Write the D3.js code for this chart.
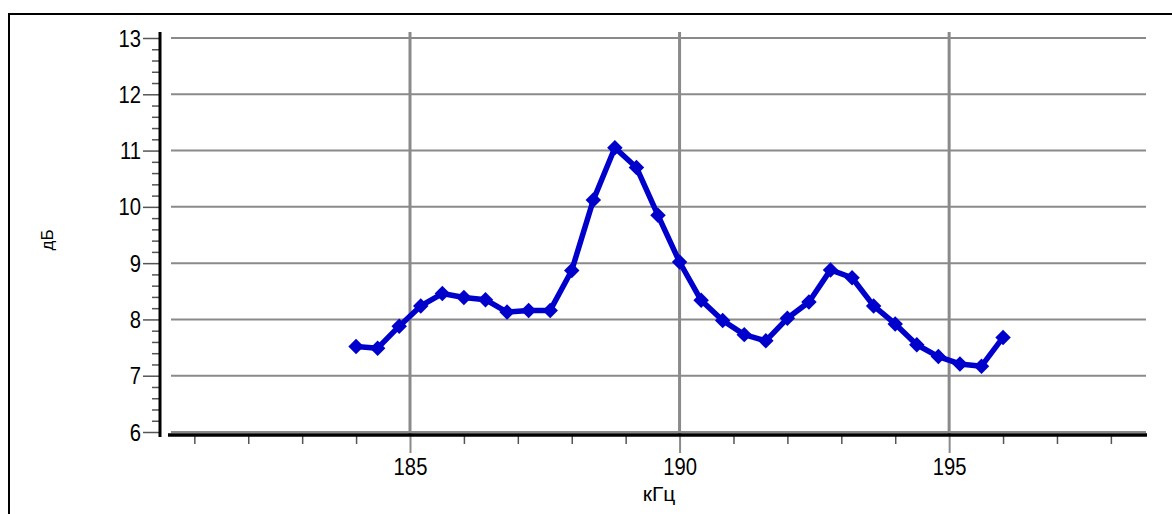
<!DOCTYPE html>
<html>
<head>
<meta charset="utf-8">
<script src="https://cdn.jsdelivr.net/npm/d3@7"></script>
<style>
  html, body { margin: 0; padding: 0; background: #fff; }
  svg { display: block; }
  text { font-family: "Liberation Sans", Arial, sans-serif; fill: #000; }
</style>
</head>
<body>
<svg id="chart" width="1172" height="514"></svg>
<script>
// ---- data ----
const freqs = [184.0, 184.4, 184.8, 185.2, 185.6, 186.0, 186.4, 186.8, 187.2, 187.6,
               188.0, 188.4, 188.8, 189.2, 189.6, 190.0, 190.4, 190.8, 191.2, 191.6,
               192.0, 192.4, 192.8, 193.2, 193.6, 194.0, 194.4, 194.8, 195.2, 195.6, 196.0];
const dbValues = [7.52, 7.49, 7.88, 8.24, 8.46, 8.39, 8.35, 8.13, 8.16, 8.16,
                  8.87, 10.12, 11.05, 10.70, 9.85, 9.02, 8.34, 7.98, 7.73, 7.62,
                  8.02, 8.31, 8.88, 8.74, 8.24, 7.92, 7.55, 7.34, 7.21, 7.17, 7.68];
const xMajorTicks = [185, 190, 195];
const xMinorTicks = [181, 182, 183, 184, 186, 187, 188, 189, 191, 192, 193, 194, 196, 197, 198];
const yMajorTicks = [6, 7, 8, 9, 10, 11, 12, 13];
const xDomain = [180.53, 198.67];
const yDomain = [6, 13];
const xLabel = "кГц";
const yLabel = "дБ";

// ---- layout ----
const svg = d3.select("#chart");
const x = d3.scaleLinear().domain(xDomain).range([169, 1147]);
const y = d3.scaleLinear().domain(yDomain).range([432, 38]);
const gridColor = "#8a8a8a";
const lineColor = "#0000cc";

svg.append("rect").attr("width", 1172).attr("height", 514).attr("fill", "#fff");

// outer frame (top & left visible)
svg.append("path").attr("d", "M9,514 V14 H1172")
  .attr("fill", "none").attr("stroke", "#000").attr("stroke-width", 2);

// horizontal gridlines
svg.append("g").selectAll("line").data(yMajorTicks).join("line")
  .attr("x1", 171).attr("x2", 1146)
  .attr("y1", d => y(d)).attr("y2", d => y(d))
  .attr("stroke", gridColor).attr("stroke-width", 2);

// vertical gridlines
svg.append("g").selectAll("line").data(xMajorTicks).join("line")
  .attr("x1", d => x(d)).attr("x2", d => x(d))
  .attr("y1", 32).attr("y2", 435)
  .attr("stroke", gridColor).attr("stroke-width", 3);

// ---- y axis ----
const yMinor = d3.range(6, 13.001, 0.2).filter(v => Math.abs(v - Math.round(v)) > 0.01);
const yAxisG = svg.append("g").attr("transform", "translate(160,0)");
yAxisG.call(d3.axisLeft(y).tickValues(yMinor).tickSize(8).tickFormat(""))
  .call(g => g.select(".domain").remove())
  .call(g => g.selectAll(".tick line").attr("stroke", "#555").attr("stroke-width", 1.5));
const yMajorG = svg.append("g").attr("transform", "translate(160,0)");
yMajorG.call(d3.axisLeft(y).tickValues(yMajorTicks).tickSize(17).tickPadding(0).tickFormat(""))
  .call(g => g.select(".domain").remove())
  .call(g => g.selectAll(".tick line").attr("stroke", "#555").attr("stroke-width", 1.5));
yMajorG.selectAll(".tick").append("text")
  .attr("text-anchor", "end")
  .attr("transform", "translate(-19,8) scale(0.88,1)")
  .attr("font-size", 23)
  .attr("fill", "#000")
  .text(d => d);
svg.append("line").attr("x1", 160).attr("x2", 160).attr("y1", 32).attr("y2", 437)
  .attr("stroke", "#000").attr("stroke-width", 3);

// ---- x axis ----
const xMinorG = svg.append("g").attr("transform", "translate(0,435)");
xMinorG.call(d3.axisBottom(x).tickValues(xMinorTicks).tickSize(9).tickFormat(""))
  .call(g => g.select(".domain").remove())
  .call(g => g.selectAll(".tick line").attr("stroke", "#555").attr("stroke-width", 1.5));
const xMajorG = svg.append("g").attr("transform", "translate(0,435)");
xMajorG.call(d3.axisBottom(x).tickValues(xMajorTicks).tickSize(18).tickFormat(""))
  .call(g => g.select(".domain").remove())
  .call(g => g.selectAll(".tick line").attr("stroke", gridColor).attr("stroke-width", 2));
xMajorG.selectAll(".tick").append("text")
  .attr("text-anchor", "middle")
  .attr("transform", "translate(0,40) scale(0.88,1)")
  .attr("font-size", 23)
  .attr("fill", "#000")
  .text(d => d);
svg.append("line").attr("x1", 168).attr("x2", 1147).attr("y1", 435).attr("y2", 435)
  .attr("stroke", "#000").attr("stroke-width", 3.5);

// axis titles
svg.append("text").attr("x", 659).attr("y", 501).attr("text-anchor", "middle")
  .attr("font-size", 21).text(xLabel);
svg.append("text").attr("text-anchor", "middle")
  .attr("transform", "translate(53,240) rotate(-90)")
  .attr("font-size", 17).text(yLabel);

// ---- series ----
const pts = freqs.map((f, i) => [f, dbValues[i]]);
svg.append("path").datum(pts)
  .attr("fill", "none").attr("stroke", lineColor).attr("stroke-width", 5.5)
  .attr("stroke-linejoin", "round")
  .attr("d", d3.line().x(d => x(d[0])).y(d => y(d[1])));
svg.append("g").selectAll("path").data(pts).join("path")
  .attr("transform", d => `translate(${x(d[0])},${y(d[1])}) rotate(45)`)
  .attr("d", d3.symbol(d3.symbolSquare, 120))
  .attr("fill", lineColor);
</script>
</body>
</html>
